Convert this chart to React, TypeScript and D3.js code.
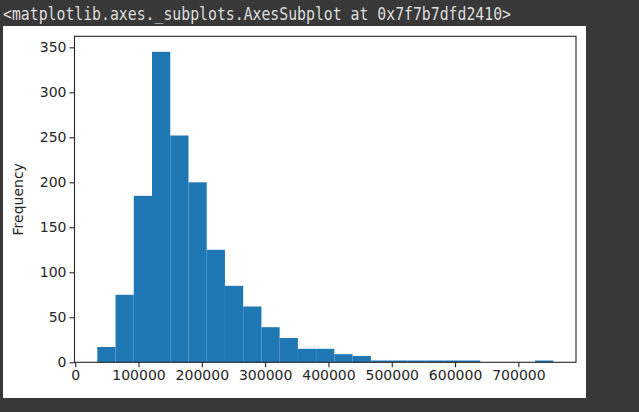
import * as d3 from "d3";
import { useEffect, useRef } from "react";

const headerText = "<matplotlib.axes._subplots.AxesSubplot at 0x7f7b7dfd2410>";
const yLabel = "Frequency";

// SalePrice histogram, 25 bins between min and max
const priceMin = 34900;
const priceMax = 755000;
const binCounts = [17, 75, 185, 345, 252, 200, 125, 85, 62, 39, 27, 15, 15, 9, 7, 2, 2, 2, 2, 2, 2, 0, 0, 0, 2];
const xTicks = [0, 100000, 200000, 300000, 400000, 500000, 600000, 700000];
const yTicks = [0, 50, 100, 150, 200, 250, 300, 350];

const App = () => {
    const ref = useRef<SVGSVGElement>(null);

    useEffect(() => {
        const width = 639, height = 412;
        const svg = d3.select(ref.current);
        svg.selectAll("*").remove();
        svg.attr("width", width).attr("height", height);

        svg.append("rect").attr("width", width).attr("height", height).attr("fill", "#383838");

        svg.append("text")
            .attr("x", 3)
            .attr("y", 20)
            .attr("fill", "#dedede")
            .attr("font-family", "DejaVu Sans Mono")
            .attr("font-size", "17px")
            .attr("textLength", 508)
            .attr("lengthAdjust", "spacingAndGlyphs")
            .text(headerText);

        svg.append("rect")
            .attr("x", 3).attr("y", 26)
            .attr("width", 583).attr("height", 372)
            .attr("fill", "white");

        const left = 74.5, right = 576, top = 36.3, bottom = 362.3;
        const binWidth = (priceMax - priceMin) / binCounts.length;
        const bins = binCounts.map((c, i) => ({
            x0: priceMin + i * binWidth,
            x1: priceMin + (i + 1) * binWidth,
            count: c
        }));

        const pad = (priceMax - priceMin) * 0.05;
        const x = d3.scaleLinear().domain([priceMin - pad, priceMax + pad]).range([left, right]);
        const y = d3.scaleLinear().domain([0, d3.max(binCounts) * 1.05]).range([bottom, top]);

        svg.append("g")
            .selectAll("rect")
            .data(bins.filter(d => d.count > 0))
            .enter()
            .append("rect")
            .attr("x", d => x(d.x0))
            .attr("y", d => y(d.count))
            .attr("width", d => x(d.x1) - x(d.x0))
            .attr("height", d => y(0) - y(d.count))
            .attr("fill", "#1f77b4");

        const xAxis = svg.append("g")
            .attr("transform", `translate(0,${bottom})`)
            .call(d3.axisBottom(x).tickValues(xTicks).tickFormat(d3.format("d")).tickSize(5).tickPadding(3));
        const yAxis = svg.append("g")
            .attr("transform", `translate(${left},0)`)
            .call(d3.axisLeft(y).tickValues(yTicks).tickSize(5).tickPadding(3));

        [xAxis, yAxis].forEach(g => {
            g.select(".domain").remove();
            g.selectAll("line").attr("stroke", "#262626").attr("stroke-width", 1.1);
            g.selectAll("text")
                .attr("fill", "#262626")
                .attr("font-family", "DejaVu Sans")
                .attr("font-size", "14px");
        });

        svg.append("rect")
            .attr("x", left).attr("y", top)
            .attr("width", right - left).attr("height", bottom - top)
            .attr("fill", "none")
            .attr("stroke", "#262626")
            .attr("stroke-width", 1.1);

        svg.append("text")
            .attr("transform", `translate(23,${(top + bottom) / 2}) rotate(-90)`)
            .attr("text-anchor", "middle")
            .attr("fill", "#262626")
            .attr("font-family", "DejaVu Sans")
            .attr("font-size", "14px")
            .text(yLabel);
    }, []);

    return <svg ref={ref} style={{ position: "absolute", left: 0, top: 0, display: "block" }}></svg>;
};

export default App;
